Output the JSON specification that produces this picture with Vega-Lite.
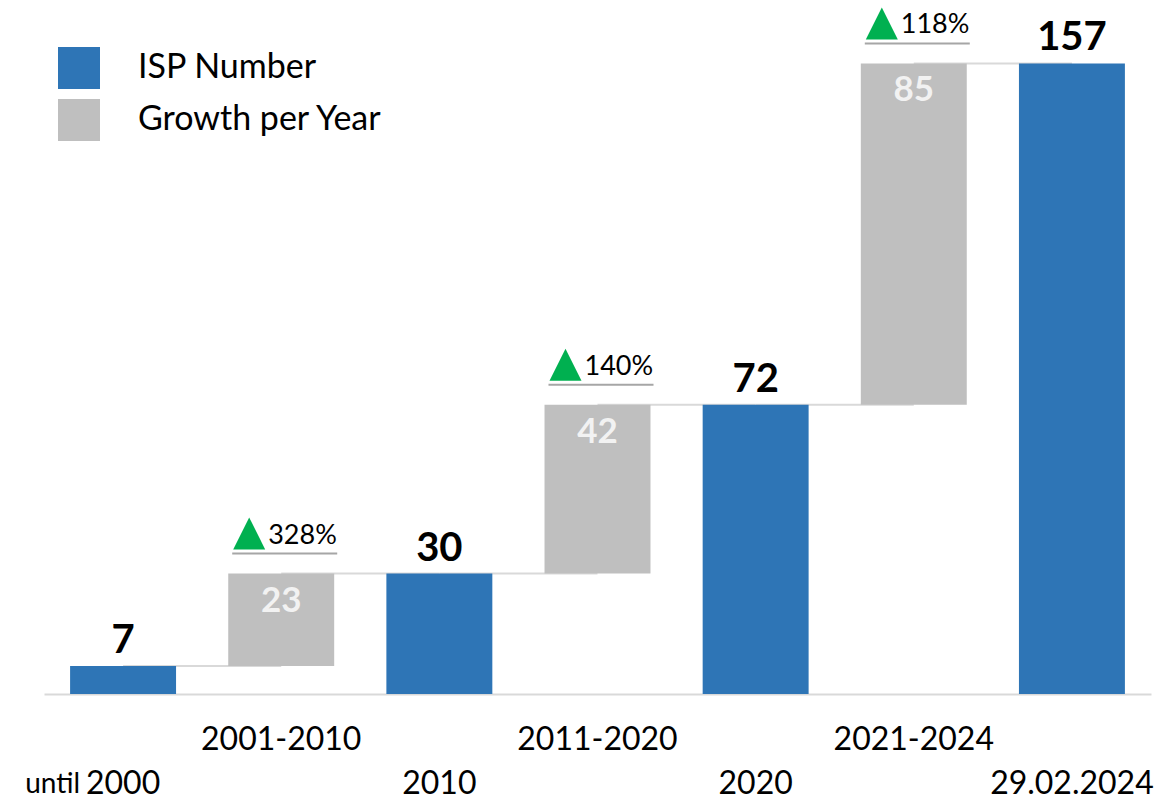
{
  "$schema": "https://vega.github.io/schema/vega-lite/v6.json",
  "width": 1107,
  "height": 694,
  "autosize": "none",
  "padding": {"left": 44, "right": 19, "top": 0, "bottom": 104},
  "config": {"view": {"stroke": null}, "font": "Lato"},
  "data": {
    "values": [
      {"cat": "until 2000", "type": "ISP Number", "start": 0, "end": 7, "value": 7, "next": "2001-2010", "prefix": "until"},
      {"cat": "2001-2010", "type": "Growth per Year", "start": 7, "end": 30, "value": 23, "pct": "328%", "next": "2010"},
      {"cat": "2010", "type": "ISP Number", "start": 0, "end": 30, "value": 30, "next": "2011-2020"},
      {"cat": "2011-2020", "type": "Growth per Year", "start": 30, "end": 72, "value": 42, "pct": "140%", "next": "2020"},
      {"cat": "2020", "type": "ISP Number", "start": 0, "end": 72, "value": 72, "next": "2021-2024"},
      {"cat": "2021-2024", "type": "Growth per Year", "start": 72, "end": 157, "value": 85, "pct": "118%", "next": "29.02.2024"},
      {"cat": "29.02.2024", "type": "ISP Number", "start": 0, "end": 157, "value": 157}
    ]
  },
  "encoding": {
    "x": {
      "field": "cat",
      "type": "nominal",
      "scale": {
        "type": "band",
        "domain": ["until 2000", "2001-2010", "2010", "2011-2020", "2020", "2021-2024", "29.02.2024"],
        "paddingInner": 0.33,
        "paddingOuter": 0.165
      },
      "axis": {
        "title": null,
        "labelAngle": 0,
        "labelExpr": "datum.value == 'until 2000' ? ['', '2000'] : (datum.value == '2010' || datum.value == '2020' || datum.value == '29.02.2024') ? ['', datum.value] : datum.value",
        "labelFont": "Lato",
        "labelFontSize": 32,
        "labelColor": "#000000",
        "labelBaseline": "top",
        "labelPadding": 30,
        "labelLineHeight": 44,
        "labelOverlap": false,
        "labelBound": false,
        "labelFlush": false,
        "labelLimit": 400,
        "ticks": false,
        "tickSize": 0,
        "domain": true,
        "domainColor": "#d9d9d9",
        "domainWidth": 2,
        "grid": false
      }
    }
  },
  "layer": [
    {
      "transform": [{"filter": "isValid(datum.next)"}],
      "mark": {"type": "rule", "color": "#d9d9d9", "strokeWidth": 2},
      "encoding": {
        "x2": {"field": "next"},
        "y": {"field": "end", "type": "quantitative", "scale": {"domain": [0, 172.8], "nice": false, "zero": true}, "axis": null}
      }
    },
    {
      "mark": {"type": "bar", "strokeWidth": 0},
      "encoding": {
        "y": {"field": "start", "type": "quantitative"},
        "y2": {"field": "end"},
        "color": {
          "field": "type",
          "type": "nominal",
          "scale": {"domain": ["ISP Number", "Growth per Year"], "range": ["#2e75b6", "#bfbfbf"]},
          "legend": {
            "title": null,
            "orient": "none",
            "legendX": 14,
            "legendY": 47,
            "padding": 0,
            "symbolType": "square",
            "symbolSize": 1764,
            "symbolStrokeWidth": 0,
            "symbolOpacity": 1,
            "labelFont": "Lato",
            "labelFontSize": 34,
            "labelColor": "#000000",
            "labelOffset": 38,
            "labelLimit": 500,
            "rowPadding": 10
          }
        }
      }
    },
    {
      "transform": [{"filter": "datum.type === 'ISP Number'"}],
      "mark": {"type": "text", "font": "Lato", "fontSize": 40, "fontWeight": "bold", "color": "#000000", "baseline": "alphabetic", "dy": -13},
      "encoding": {
        "y": {"field": "end", "type": "quantitative"},
        "text": {"field": "value", "type": "quantitative"}
      }
    },
    {
      "transform": [{"filter": "datum.type === 'Growth per Year'"}],
      "mark": {"type": "text", "font": "Lato", "fontSize": 35, "fontWeight": "bold", "color": "#f2f2f2", "baseline": "alphabetic", "dy": 38},
      "encoding": {
        "y": {"field": "end", "type": "quantitative"},
        "text": {"field": "value", "type": "quantitative"}
      }
    },
    {
      "transform": [{"filter": "isValid(datum.pct)"}],
      "mark": {"type": "point", "shape": "M-1,1L1,1L0,-1Z", "size": 1024, "filled": true, "opacity": 1, "color": "#00b050", "strokeWidth": 0, "xOffset": -32, "yOffset": -40},
      "encoding": {
        "y": {"field": "end", "type": "quantitative"}
      }
    },
    {
      "transform": [{"filter": "isValid(datum.pct)"}],
      "mark": {"type": "rule", "color": "#a6a6a6", "strokeWidth": 2, "xOffset": -49, "x2Offset": 56, "yOffset": -20, "y2Offset": -20},
      "encoding": {
        "x2": {"field": "cat"},
        "y": {"field": "end", "type": "quantitative"}
      }
    },
    {
      "transform": [{"filter": "isValid(datum.pct)"}],
      "mark": {"type": "text", "font": "Lato", "fontSize": 27, "color": "#000000", "align": "left", "baseline": "alphabetic", "dx": -13, "dy": -30},
      "encoding": {
        "y": {"field": "end", "type": "quantitative"},
        "text": {"field": "pct", "type": "nominal"}
      }
    },
    {
      "transform": [{"filter": "isValid(datum.prefix)"}],
      "mark": {"type": "text", "font": "Lato", "fontSize": 28, "color": "#000000", "align": "right", "baseline": "alphabetic", "dx": -43, "dy": 99},
      "encoding": {
        "y": {"field": "start", "type": "quantitative"},
        "text": {"field": "prefix", "type": "nominal"}
      }
    }
  ]
}
